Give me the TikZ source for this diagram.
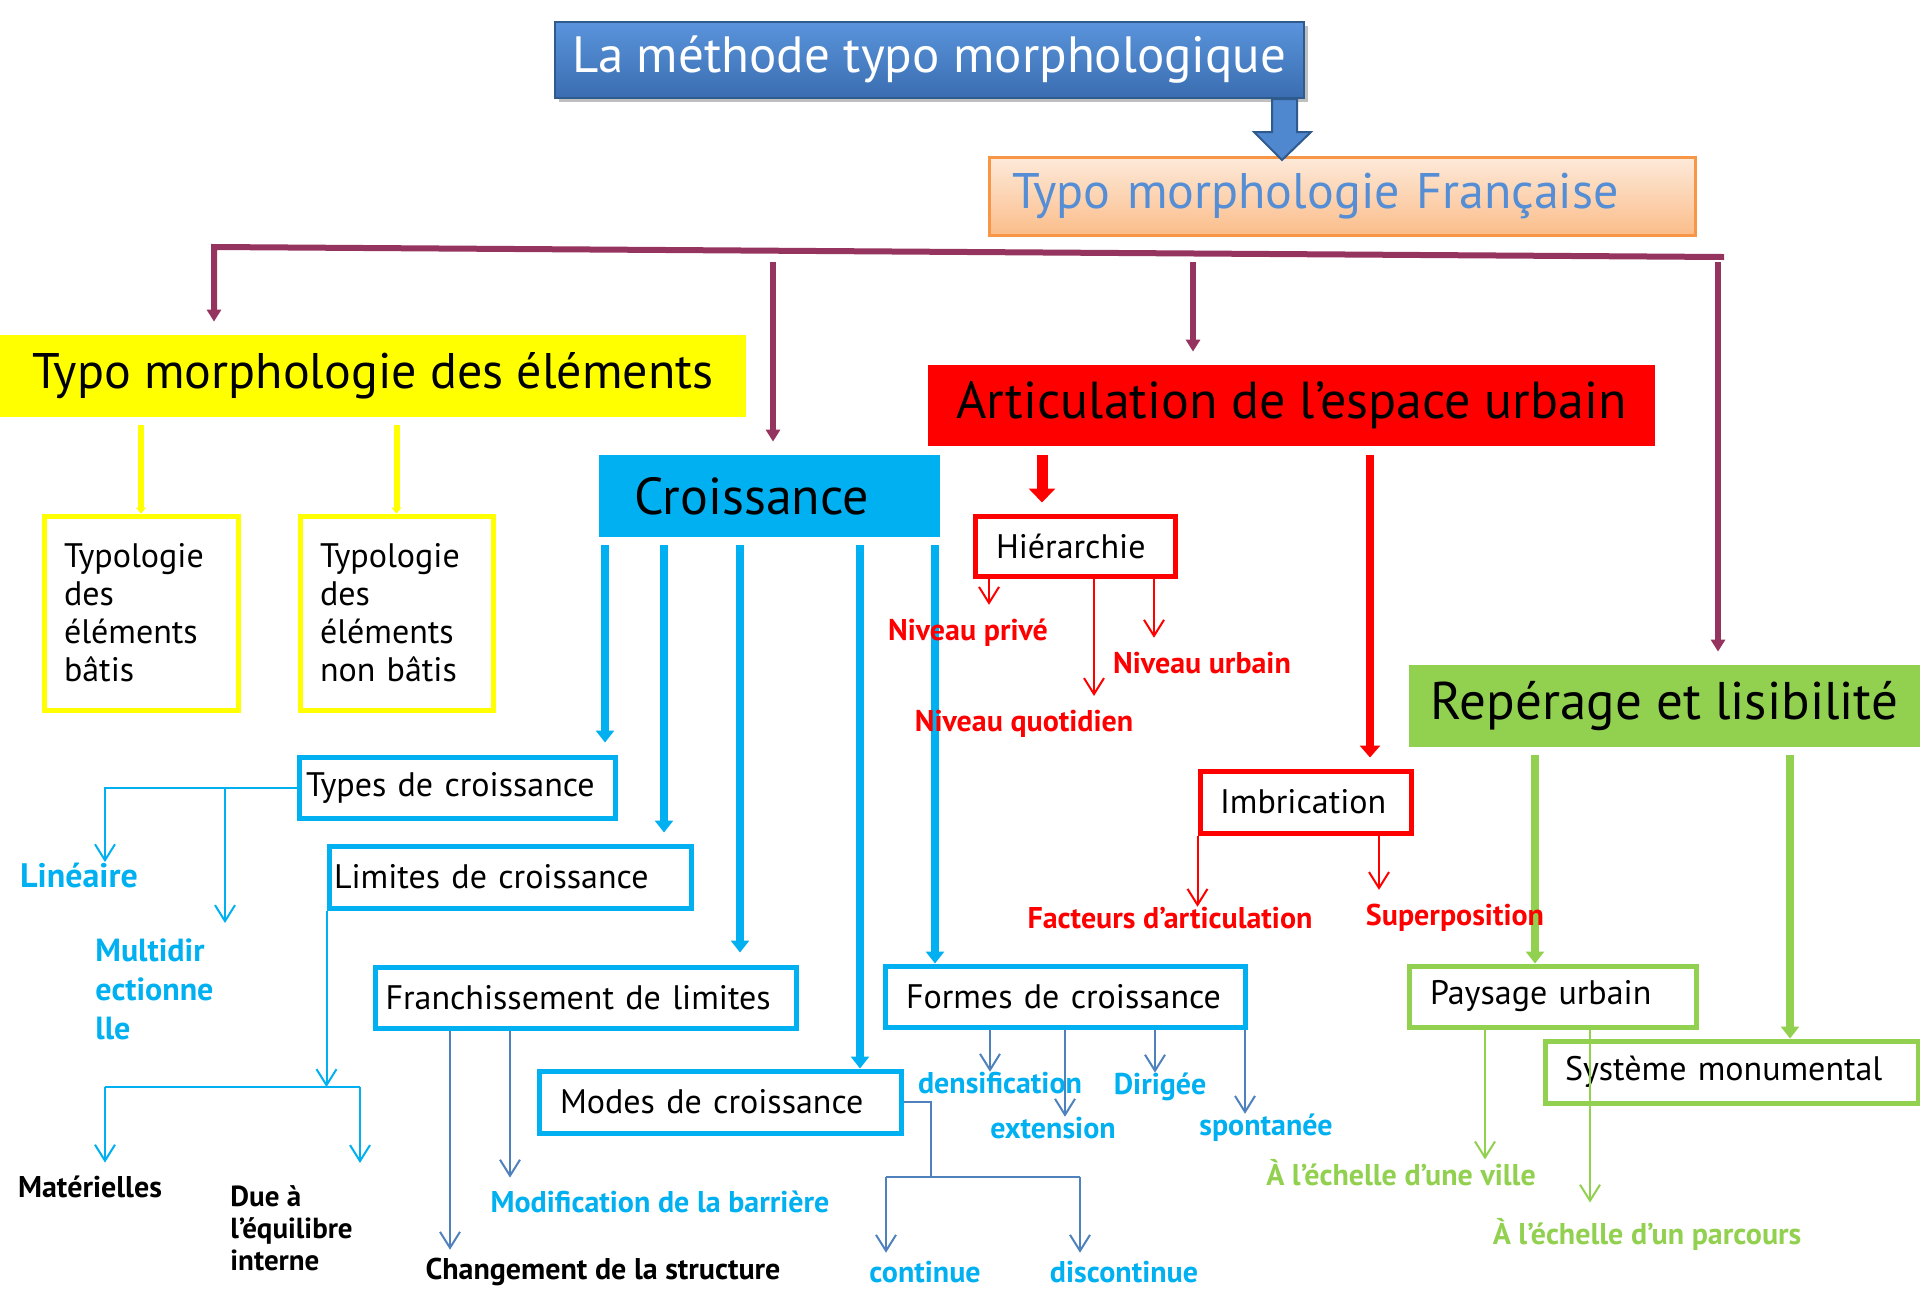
\documentclass[tikz,border=0pt]{standalone}
\usepackage{fontspec}
\setmainfont{PT Sans}
\usetikzlibrary{arrows.meta,shadows}

\definecolor{methtop}{HTML}{5A94DC}
\definecolor{methbot}{HTML}{3A6DB0}
\definecolor{methline}{HTML}{2F5A8E}
\definecolor{peachtop}{HTML}{FDEADA}
\definecolor{peachbot}{HTML}{FBBD8A}
\definecolor{peachline}{HTML}{F79646}
\definecolor{frantext}{HTML}{558ED5}
\definecolor{barpurple}{HTML}{963460}
\definecolor{skyblue}{HTML}{00B0F0}
\definecolor{steel}{HTML}{4F81BD}
\definecolor{leafgreen}{HTML}{92D050}
\definecolor{lemon}{HTML}{FFFF00}
\definecolor{scarlet}{HTML}{FF0000}

\tikzset{
  headbox/.style={rectangle, inner sep=0pt, font=\fontsize{25}{30}\selectfont},
  subbox/.style={rectangle, draw=#1, line width=2.5pt, fill=white, inner sep=0pt, font=\fontsize{17}{20}\selectfont},
  lbl/.style={text=#1, inner sep=0pt, font=\bfseries\fontsize{15}{18}\selectfont},
  purplebar/.style={barpurple, line width=3pt, -{Triangle[width=7pt,length=6pt]}},
  fat/.style={#1, line width=4pt, -{Triangle[width=9pt,length=6pt]}},
  slim/.style={#1, line width=1pt, -{Straight Barb[width=10pt,length=8pt]}},
}

\begin{document}
\begin{tikzpicture}[x=0.5pt,y=-0.5pt]
\useasboundingbox (0,0) rectangle (1920,1297);

% top of the chart
\node[headbox, top color=methtop, bottom color=methbot, draw=methline, line width=1pt,
  drop shadow={shadow xshift=2pt,shadow yshift=-2pt,opacity=.5}, text=white,
  minimum width=374.5pt, minimum height=38pt, font=\fontsize{25.5}{30}\selectfont] (meth) at (929.5,60) {La méthode typo morphologique};
\node[headbox, top color=peachtop, bottom color=peachbot, draw=peachline, line width=1.5pt, text=frantext,
  minimum width=353pt, minimum height=39pt, text width=330pt, align=left] (fran) at (1342,196) {Typo morphologie Française};
\filldraw[fill=methtop!70!methbot, draw=methline, line width=1pt] (1272,0 |- meth.south) -- (1272,132) -- (1254,132) -- (1282,160)
  -- (1311,132) -- (1297,132) -- (1297,0 |- meth.south) -- cycle;

% the four themes
\node[headbox, fill=lemon, minimum width=373pt, minimum height=41pt] (elem) at (373,376) {Typo morphologie des éléments};
\node[headbox, fill=skyblue, minimum width=170.5pt, minimum height=41pt, text width=135.5pt, align=left, font=\fontsize{26}{30}\selectfont] (croiss) at (769.5,496) {Croissance};
\node[headbox, fill=scarlet, minimum width=363.5pt, minimum height=40.5pt, font=\fontsize{26}{30}\selectfont] (artic) at (1291.5,405.5) {Articulation de l'espace urbain};
\node[headbox, fill=leafgreen, minimum width=255.5pt, minimum height=41pt, font=\fontsize{26.5}{30}\selectfont] (reper) at (1664.5,706) {Repérage et lisibilité};

% boxes under the themes
\node[subbox=lemon, minimum width=97pt, minimum height=97pt, text width=77pt, align=left, font=\fontsize{17}{19}\selectfont] (bati) at (141,613) {Typologie\\des\\éléments\\bâtis};
\node[subbox=lemon, minimum width=96.5pt, minimum height=97pt, text width=76.5pt, align=left, font=\fontsize{17}{19}\selectfont] (nonbati) at (396.5,613) {Typologie\\des\\éléments\\non bâtis};
\node[subbox=skyblue, minimum width=158pt, minimum height=30.5pt, text width=151pt, align=left] (types) at (457,787.5) {Types de croissance};
\node[subbox=skyblue, minimum width=181pt, minimum height=31pt, text width=176pt, align=left] (limites) at (510,877) {Limites de croissance};
\node[subbox=skyblue, minimum width=210.5pt, minimum height=30.5pt, text width=200pt, align=left] (franch) at (585.5,997.5) {Franchissement de limites};
\node[subbox=skyblue, minimum width=181pt, minimum height=31pt, text width=160pt, align=left] (modes) at (720,1102) {Modes de croissance};
\node[subbox=skyblue, minimum width=180pt, minimum height=30.5pt, text width=159pt, align=left] (formes) at (1065,996.5) {Formes de croissance};
\node[subbox=scarlet, minimum width=100pt, minimum height=30pt, text width=79pt, align=left] (hier) at (1075,546) {Hiérarchie};
\node[subbox=scarlet, minimum width=105.5pt, minimum height=31pt, text width=85.5pt, align=left] (imbric) at (1305.5,802) {Imbrication};
\node[subbox=leafgreen, minimum width=143.5pt, minimum height=30.5pt, text width=122.5pt, align=left] (paysage) at (1552.5,996.5) {Paysage urbain};
\node[subbox=leafgreen, minimum width=186.5pt, minimum height=31pt, text width=166.5pt, align=left] (systeme) at (1731.5,1072) {Système monumental};

% purple bar
\coordinate (barL) at (214,247);
\coordinate (barR) at (1724,257);
\draw[purplebar, shorten >=6.5pt] (barR) -- (barL) -- (barL |- elem.north);
\foreach \x/\n in {773/croiss, 1193/artic, 1718/reper}{
  \coordinate (drop) at (\x,262);
  \draw[purplebar, shorten >=6.5pt] (drop) -- (drop |- \n.north);
}

% thick arrows
\foreach \n in {bati, nonbati}
  \draw[lemon, line width=3pt, -{Triangle[width=5pt,length=3pt]}, shorten <=4pt] (\n.north |- elem.south) -- (\n.north);
\foreach \x/\n/\gap in {605/types/6, 664/limites/5.5, 740/franch/6, 860/modes/0, 935/formes/0}
  \draw[fat=skyblue, shorten <=4pt, shorten >=\gap pt] (\x,0 |- croiss.south) -- (\x,0 |- \n.north);
\draw[fat=scarlet, line width=5.5pt, -{Triangle[width=13pt,length=7pt]}, shorten <=4.5pt, shorten >=5.5pt] (1042,0 |- artic.south) -- (1042,0 |- hier.north);
\draw[fat=scarlet, -{Triangle[width=10pt,length=6pt]}, shorten <=4.5pt, shorten >=5.5pt] (1370,0 |- artic.south) -- (1370,0 |- imbric.north);
\foreach \x/\n in {1535/paysage, 1790/systeme}
  \draw[fat=leafgreen, shorten <=4pt] (\x,0 |- reper.south) -- (\x,0 |- \n.north);

% loose labels
\node[lbl=skyblue, font=\bfseries\fontsize{17}{19}\selectfont] (lin) at (79,875) {Linéaire};
\node[lbl=skyblue, font=\bfseries\fontsize{16}{19.5}\selectfont, align=left, anchor=west] (multi) at (95,989) {Multidir\\ectionne\\lle};
\node[lbl=black] (mat) at (90,1187) {Matérielles};
\node[lbl=black, align=left, anchor=west, font=\bfseries\fontsize{14.5}{16}\selectfont] (due) at (230,1228) {Due à\\l'équilibre\\interne};
\node[lbl=skyblue] (modif) at (660,1202) {Modification de la barrière};
\node[lbl=black] (chang) at (603,1272) {Changement de la structure};
\node[lbl=skyblue] (cont) at (925,1272) {continue};
\node[lbl=skyblue] (discont) at (1124,1272) {discontinue};
\node[lbl=skyblue] (dens) at (1000,1083) {densification};
\node[lbl=skyblue] (dirig) at (1160,1087) {Dirigée};
\node[lbl=skyblue] (ext) at (1053,1128) {extension};
\node[lbl=skyblue] (spont) at (1266,1128) {spontanée};
\node[lbl=scarlet] (prive) at (968,633) {Niveau privé};
\node[lbl=scarlet] (urb) at (1202,663) {Niveau urbain};
\node[lbl=scarlet] (quot) at (1024,724) {Niveau quotidien};
\node[lbl=scarlet] (fact) at (1170,918) {Facteurs d'articulation};
\node[lbl=scarlet] (superp) at (1455,918) {Superposition};
\node[lbl=leafgreen] (ville) at (1401,1173) {À l'échelle d'une ville};
\node[lbl=leafgreen] (parc) at (1647,1234) {À l'échelle d'un parcours};

% thin arrows
\draw[slim=skyblue] (types.west) -| (105,0 |- lin.north);
\draw[slim=skyblue, shorten >=7.5pt] (225,0 |- types.west) -- (225,0 |- multi.north);
\coordinate (lbarL) at (105,1087);
\coordinate (lbarR) at (360,1087);
\draw[slim=skyblue] (limites.south west) -- (limites.south west |- lbarL);
\draw[skyblue, line width=1pt] (lbarL) -- (lbarR);
\draw[slim=skyblue, shorten >=6.5pt] (lbarL) -- (lbarL |- mat.north);
\draw[slim=skyblue, shorten >=11pt] (lbarR) -- (lbarR |- due.north);

\draw[slim=steel, shorten >=4pt] (450,0 |- franch.south) -- (450,0 |- chang.north);
\draw[slim=steel, shorten >=6.5pt] (510,0 |- franch.south) -- (510,0 |- modif.north);
\coordinate (mbarL) at (886,1177);
\coordinate (mbarR) at (1080,1177);
\draw[steel, line width=1pt] (modes.east) -| (931,0 |- mbarL);
\draw[steel, line width=1pt] (mbarL) -- (mbarR);
\draw[slim=steel, shorten >=4pt] (mbarL) -- (mbarL |- cont.north);
\draw[slim=steel, shorten >=4pt] (mbarR) -- (mbarR |- discont.north);
\foreach \x/\n in {990/dens, 1065/ext, 1155/dirig, 1245/spont}
  \draw[slim=steel] (\x,0 |- formes.south) -- (\x,0 |- \n.north);

\foreach \x/\n in {989/prive, 1094/quot, 1154/urb}
  \draw[slim=scarlet, shorten >=7pt] (\x,0 |- hier.south) -- (\x,0 |- \n.north);
\draw[slim=scarlet] (imbric.south west) -- (imbric.south west |- fact.north);
\draw[slim=scarlet, shorten >=7pt] (1379,0 |- imbric.south) -- (1379,0 |- superp.north);

\draw[slim=leafgreen] (1485,0 |- paysage.south) -- (1485,0 |- ville.north);
\draw[slim=leafgreen, shorten >=7.5pt] (1590,0 |- paysage.south) -- (1590,0 |- parc.north);
\end{tikzpicture}
\end{document}
